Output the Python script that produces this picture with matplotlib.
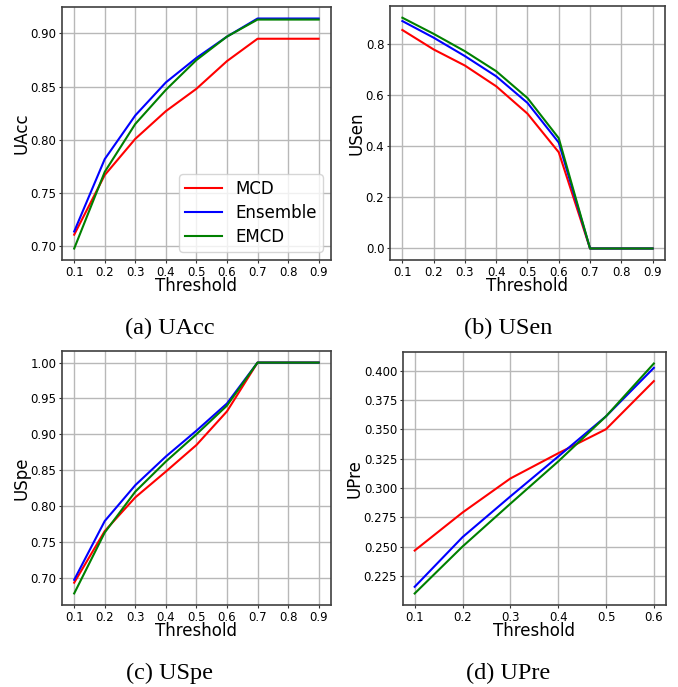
import matplotlib
matplotlib.use('Agg')
import matplotlib.pyplot as plt
import numpy as np

# thresholds
thr = [0.1, 0.2, 0.3, 0.4, 0.5, 0.6, 0.7, 0.8, 0.9]
thr_pre = [0.1, 0.2, 0.3, 0.4, 0.5, 0.6]

# UAcc
uacc_mcd = [0.711, 0.767, 0.801, 0.827, 0.848, 0.874, 0.895, 0.895, 0.895]
uacc_ens = [0.714, 0.782, 0.823, 0.854, 0.877, 0.897, 0.914, 0.914, 0.914]
uacc_emcd = [0.698, 0.770, 0.815, 0.847, 0.875, 0.897, 0.913, 0.913, 0.913]

# USen
usen_mcd = [0.854, 0.778, 0.715, 0.634, 0.527, 0.376, 0.0, 0.0, 0.0]
usen_ens = [0.889, 0.824, 0.752, 0.673, 0.569, 0.414, 0.0, 0.0, 0.0]
usen_emcd = [0.902, 0.839, 0.771, 0.693, 0.588, 0.431, 0.0, 0.0, 0.0]

# USpe
uspe_mcd = [0.693, 0.765, 0.812, 0.848, 0.885, 0.932, 1.0, 1.0, 1.0]
uspe_ens = [0.697, 0.779, 0.829, 0.869, 0.905, 0.943, 1.0, 1.0, 1.0]
uspe_emcd = [0.678, 0.763, 0.820, 0.862, 0.900, 0.940, 1.0, 1.0, 1.0]

# UPre
upre_mcd = [0.2466, 0.279, 0.308, 0.3295, 0.350, 0.391]
upre_ens = [0.2157, 0.258, 0.2927, 0.3267, 0.361, 0.4023]
upre_emcd = [0.210, 0.250, 0.2865, 0.3225, 0.361, 0.406]

labels = ['MCD', 'Ensemble', 'EMCD']
colors = ['red', 'blue', 'green']

fig = plt.figure(figsize=(6.78, 6.87), dpi=100)

panels = [
    ([0.0914, 0.6215, 0.3966, 0.3683], thr, [uacc_mcd, uacc_ens, uacc_emcd], 'UAcc', '(a) UAcc', '%.2f', 0.25, 328),
    ([0.575, 0.6215, 0.406, 0.3695], thr, [usen_mcd, usen_ens, usen_emcd], 'USen', '(b) USen', '%.1f', 0.75, 328),
    ([0.0914, 0.1194, 0.3966, 0.3696], thr, [uspe_mcd, uspe_ens, uspe_emcd], 'USpe', '(c) USpe', '%.2f', 0.25, 673),
    ([0.594, 0.1194, 0.388, 0.3682], thr_pre, [upre_mcd, upre_ens, upre_emcd], 'UPre', '(d) UPre', '%.3f', 0.75, 673),
]

for i, (pos, x, ys, ylab, cap, fmt, cx, cy) in enumerate(panels):
    ax = fig.add_axes(pos)
    for y, lab, c in zip(ys, labels, colors):
        ax.plot(x, y, color=c, lw=1.5, label=lab)
    ax.set_xticks(x)
    ax.set_xticklabels(['%.1f' % v for v in x])
    ax.yaxis.set_major_formatter(matplotlib.ticker.FormatStrFormatter(fmt))
    ax.tick_params(labelsize=8.5, color='0.2', length=2.5, pad=1.5)
    ax.grid(True, color='0.72', lw=1.0)
    ax.set_axisbelow(True)
    for s in ax.spines.values():
        s.set_color('0.25')
        s.set_linewidth(1.2)
    ax.set_xlabel('Threshold', fontsize=12, labelpad=-1)
    ax.set_ylabel(ylab, fontsize=12, labelpad=0)
    if i == 0:
        ax.legend(loc='lower right', fontsize=12, handlelength=2.2,
                  borderpad=0.35, labelspacing=0.35)
    fig.text(cx, 1 - cy / 687, cap, ha='center', va='center', fontsize=17.5,
             family='Liberation Serif')

fig.savefig('out.png', dpi=100)
